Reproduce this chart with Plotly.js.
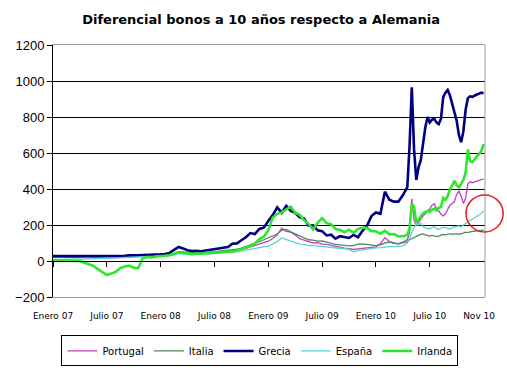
<!DOCTYPE html>
<html>
<head>
<meta charset="utf-8">
<script src="https://cdn.plot.ly/plotly-3.0.1.min.js"></script>
<style>html,body{margin:0;padding:0;background:#fff;}#chart{width:507px;height:370px;}</style>
</head>
<body>
<div id="chart"></div>
<script>
// time index in months since January 2007
const months = [0,0.5,1,1.5,2,2.5,3,3.5,4,4.5,5,5.5,6,6.5,7,7.5,8,8.5,9,9.5,10,10.5,11,11.5,12,12.5,13,13.5,14,14.5,15,15.5,16,16.5,17,17.5,18,18.5,19,19.5,20,20.5,21,21.5,22,22.5,23,23.5,24,24.5,25,25.5,26,26.5,27,27.5,28,28.5,29,29.5,30,30.5,31,31.5,32,32.5,33,33.5,34,34.5,35,35.5,36,36.5,37,37.5,38,38.5,39,39.5,
  39.75,40,40.25,40.5,40.75,41,41.25,41.5,41.75,42,42.25,42.5,42.75,43,43.25,43.5,43.75,44,44.25,44.5,44.75,45,45.25,45.5,45.75,46,46.25,46.5,46.75,47,47.25,47.5,47.75,48];

const seriesNames = ["Portugal","Italia","Grecia","España","Irlanda"];

const portugal = [20,21,20,19,20,21,20, 19,18,19,18,17,18, 17,18,19,20,21,22,24,25, 26,27,28,30,32,34,40,50, 48,44,42,43,42,45,47,48, 50,52,55,57,60,65,70,78, 85,92,100,110,125,145,182,165, 160,145,124,115,108,100,102,94, 92,86,80,76,72,68,64,67, 68,73,75,79,95,130,108,100, 95,105,118,
  160,345,230,195,215,235,250,262,275,290,310,318,290,278,260,250,262,290,310,320,330,370,390,360,320,350,430,440,435,440,445,448,452,455];

const italia = [24,25,24,23,24,25,24, 23,22,23,22,21,22, 21,22,23,24,25,26,27,28, 29,30,32,33,35,37,42,52, 50,46,45,46,44,47,50,52, 54,56,58,62,66,72,80,90, 98,108,118,128,139,150,172,175, 162,152,140,132,118,116,110,112, 105,98,92,90,85,84,86,94, 95,91,86,85,90,100,105,98, 96,100,108,
  118,125,130,135,142,148,150,145,140,138,142,140,135,138,145,148,145,150,152,148,150,152,148,150,155,160,158,162,165,165,168,168,170,172];

const grecia = [28,27,28,29,28,27,28, 28,27,26,27,28,27, 26,28,30,29,31,30,32,33, 33,34,35,37,39,45,62,78, 70,60,55,57,54,58,60,65, 66,74,78,96,98,115,132,155, 150,178,185,222,255,298,268,306, 278,268,242,236,196,198,170,166, 142,146,124,138,132,128,145,132, 168,195,250,270,262,385,340,330, 330,365,410,
  640,965,620,450,520,560,660,740,800,770,785,790,770,760,790,910,935,950,920,870,820,780,700,660,720,840,905,915,912,920,925,930,935,932];

const espana = [8,9,8,10,9,10,11, 10,11,12,11,12,13, 13,14,15,16,17,18,20,21, 22,23,25,26,28,30,34,42, 40,36,35,37,36,38,40,42, 43,45,46,48,52,55,60,66, 70,74,78,82,95,108,128,120, 112,104,94,92,86,85,82,83, 80,77,72,71,68,66,50,58, 62,67,70,73,74,79,80,80, 82,84,100,
  130,165,185,205,200,210,190,185,182,178,185,190,180,175,182,188,185,180,178,185,190,192,195,190,200,210,220,225,232,240,248,255,265,278];

const irlanda = [5,4,5,6,5,4,0, -10,-20,-27,-45,-60,-78, -70,-60,-40,-30,-25,-38,-40,15, 22,20,25,28,30,32,40,48, 45,40,38,42,40,44,45,48, 46,48,50,52,58,65,75,83, 98,122,135,170,242,262,270,288, 302,268,256,226,205,176,212,238, 210,204,178,172,160,174,156,178, 185,184,166,165,152,168,148,150, 136,138,145,
  180,320,300,215,230,250,265,272,278,272,285,290,280,295,300,350,340,360,400,420,445,420,410,430,450,490,620,555,550,565,580,590,610,650];

const tickPositions = [0,6,12,18,24,30,36,42,47.5];
const tickLabels = ["Enero 07","Julio 07","Enero 08","Julio 08","Enero 09","Julio 09","Enero 10","Julio 10","Nov 10"];
const zeroTickPositions = [0,6,12,18,24,30,36,42];

const values = [portugal, italia, grecia, espana, irlanda];
const colors = ["#c040c0","#4d8a5a","#000080","#55d4d4","#2ee62e"];
const widths = [1.3,1.3,2.6,1.3,2.6];

const traces = seriesNames.map((n,i)=>({
  type:"scatter", mode:"lines", name:n, x:months, y:values[i],
  line:{color:colors[i], width:widths[i]}, hoverinfo:"skip"
}));
traces.push({type:"scatter", mode:"lines", x:[], y:[], xaxis:"x2", showlegend:false, hoverinfo:"skip"});

const xr = [0, 48.16];
const layout = {
  width:507, height:370,
  margin:{l:53, r:22, t:45, b:73, autoexpand:false},
  paper_bgcolor:"#fff", plot_bgcolor:"#fff",
  showlegend:true,
  title:{text:"Diferencial bonos a 10 años respecto a Alemania",
    font:{family:"DejaVu Sans", size:13, color:"#000", weight:"bold"},
    x:0.515, xref:"container", xanchor:"center", y:0.947, yref:"container", yanchor:"middle"},
  xaxis:{range:xr, tickvals:tickPositions, ticktext:tickLabels, showgrid:false, zeroline:false,
    showline:true, linecolor:"#999", linewidth:1, mirror:true,
    ticks:"outside", ticklen:10, tickcolor:"rgba(0,0,0,0)",
    tickfont:{family:"DejaVu Sans", size:9, color:"#000"}},
  xaxis2:{range:xr, overlaying:"x", anchor:"free", position:1/7, tickvals:zeroTickPositions,
    showticklabels:false, showgrid:false, zeroline:false, showline:true, linecolor:"#000", linewidth:1,
    ticks:"outside", ticklen:5, tickcolor:"#000", tickwidth:1},
  yaxis:{range:[-200,1200], dtick:200, tick0:0, showgrid:true, gridcolor:"#000", gridwidth:1, zeroline:false,
    showline:true, linecolor:"#000", linewidth:1, ticks:"outside", ticklen:5, tickcolor:"#000",
    tickfont:{family:"Liberation Sans", size:13, color:"#000"}},
  legend:{orientation:"h", x:0.479, xanchor:"center", y:-0.214, yanchor:"middle",
    bordercolor:"#000", borderwidth:1, bgcolor:"#fff",
    font:{family:"DejaVu Sans", size:10, color:"#000"}},
  shapes:[
    {type:"line", xref:"paper", yref:"paper", x0:1, x1:1, y0:0, y1:1, line:{color:"#999", width:1}},
    {type:"circle", xref:"paper", yref:"paper", x0:0.956, x1:1.042, y0:0.258, y1:0.405, line:{color:"#e82020", width:1.5}}
  ]
};
Plotly.newPlot("chart", traces, layout, {displayModeBar:false, staticPlot:true});
</script>
</body>
</html>
